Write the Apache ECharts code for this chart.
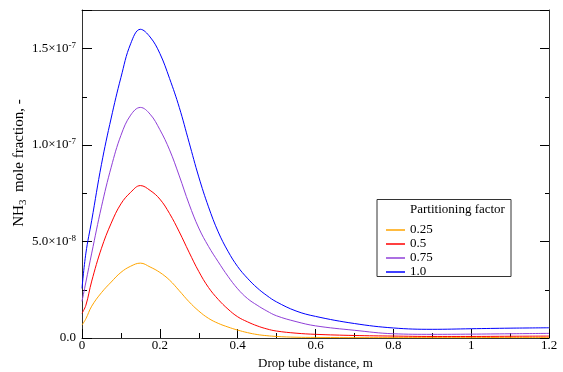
<!DOCTYPE html>
<html>
<head>
<meta charset="utf-8">
<script src="https://cdn.jsdelivr.net/npm/echarts@6/dist/echarts.min.js"></script>
<style>
  html, body { margin: 0; padding: 0; background: #fff; }
  #chart { width: 563px; height: 372px; }
</style>
</head>
<body>
<div id="chart"></div>
<script>
// distance along the drop tube, m
const distance = [0, 0.01, 0.025, 0.05, 0.075, 0.1, 0.125, 0.15, 0.175, 0.2, 0.225, 0.25, 0.275, 0.3,
  0.325, 0.35, 0.375, 0.4, 0.425, 0.45, 0.475, 0.5, 0.55, 0.6, 0.7, 0.8, 0.9, 1.0, 1.1, 1.2];

// NH3 mole fraction, in units of 1e-8
const pf025 = [0.67, 1.0, 1.65, 2.35, 2.9, 3.4, 3.72, 3.88, 3.68, 3.4, 3.0, 2.45, 1.88, 1.4,
  1.02, 0.76, 0.57, 0.41, 0.28, 0.18, 0.12, 0.08, 0.04, 0.03, 0.02, 0.02, 0.02, 0.02, 0.03, 0.03];
const pf05 = [1.28, 1.7, 2.95, 4.65, 5.95, 6.95, 7.55, 7.9, 7.65, 7.2, 6.45, 5.5, 4.45, 3.45,
  2.62, 2.0, 1.5, 1.1, 0.84, 0.63, 0.47, 0.36, 0.25, 0.19, 0.13, 0.1, 0.08, 0.08, 0.09, 0.1];
const pf075 = [1.9, 2.9, 4.4, 6.8, 8.85, 10.5, 11.55, 11.95, 11.6, 10.8, 9.75, 8.4, 6.95, 5.7,
  4.75, 3.95, 3.2, 2.55, 2.05, 1.7, 1.4, 1.15, 0.85, 0.63, 0.4, 0.22, 0.19, 0.2, 0.22, 0.24];
const pf10 = [2.57, 4.4, 6.1, 9.0, 11.4, 13.5, 15.25, 16.0, 15.6, 14.75, 13.45, 11.95, 10.15, 8.35,
  6.8, 5.5, 4.5, 3.7, 3.1, 2.6, 2.2, 1.87, 1.4, 1.12, 0.75, 0.52, 0.45, 0.48, 0.51, 0.53];

const seriesNames = ['0.25', '0.5', '0.75', '1.0'];
const seriesColors = ['#ffa500', '#ff0000', '#9040d8', '#0000ff'];
const seriesData = [pf025, pf05, pf075, pf10];

const yTicks = { 0: ['0.0', ''], 5: ['5.0×10', '-8'], 10: ['1.0×10', '-7'], 15: ['1.5×10', '-7'] };

const FONT = '"Liberation Serif", "DejaVu Serif", serif';
const axisColor = '#333';

const chart = echarts.init(document.getElementById('chart'));

const option = {
  backgroundColor: '#fff',
  animation: false,
  grid: { left: 82, right: 14, top: 10, bottom: 34, outerBoundsMode: 'none' },
  xAxis: [
    {
      type: 'value',
      min: 0,
      max: 1.2,
      interval: 0.2,
      name: 'Drop tube distance, m',
      nameLocation: 'middle',
      nameGap: 17,
      nameTextStyle: { fontFamily: FONT, fontSize: 13, color: '#000' },
      axisLine: { onZero: false, lineStyle: { color: axisColor, width: 1 } },
      axisTick: { inside: true, length: 9, lineStyle: { color: '#000' } },
      minorTick: { show: true, splitNumber: 2, length: 5, lineStyle: { color: '#000' } },
      splitLine: { show: false },
      axisLabel: { fontFamily: FONT, fontSize: 13, color: '#000', margin: 1 },
    },
    {
      type: 'value',
      position: 'top',
      min: 0,
      max: 1.2,
      axisLine: { show: true, onZero: false, lineStyle: { color: axisColor, width: 1 } },
      axisTick: { show: false },
      axisLabel: { show: false },
      splitLine: { show: false },
    },
  ],
  yAxis: [
    {
      type: 'value',
      min: 0,
      max: 17,
      interval: 5,
      name: '{a|NH}{s|3}{a|  mole fraction, -}',
      nameLocation: 'middle',
      nameGap: 53,
      nameMoveOverlap: false,
      nameTextStyle: {
        padding: [0, 0, 0, 22],
        rich: {
          a: { fontFamily: FONT, fontSize: 15, color: '#000' },
          s: { fontFamily: FONT, fontSize: 11, color: '#000', verticalAlign: 'bottom', padding: [8, 0, 0, 0] },
        },
      },
      axisLine: { show: true, onZero: false, lineStyle: { color: axisColor, width: 1 } },
      axisTick: { inside: true, length: 10, lineStyle: { color: '#000' } },
      minorTick: { show: true, splitNumber: 2, length: 5, lineStyle: { color: '#000' } },
      splitLine: { show: false },
      axisLabel: {
        showMaxLabel: false,
        margin: 6,
        formatter: function (v) {
          const t = yTicks[Math.round(v)];
          if (!t) return '';
          return t[1] ? '{b|' + t[0] + '}{e|' + t[1] + '}' : '{b|' + t[0] + '}';
        },
        rich: {
          b: { fontFamily: FONT, fontSize: 13, color: '#000' },
          e: { fontFamily: FONT, fontSize: 9, color: '#000', verticalAlign: 'top', padding: [0, 0, 6, 0] },
        },
      },
    },
    {
      type: 'value',
      position: 'right',
      min: 0,
      max: 17,
      interval: 5,
      axisLine: { show: true, onZero: false, lineStyle: { color: axisColor, width: 1 } },
      axisTick: { inside: true, length: 9, lineStyle: { color: '#000' } },
      minorTick: { show: true, splitNumber: 2, length: 4, lineStyle: { color: '#000' } },
      splitLine: { show: false },
      axisLabel: { show: false },
    },
  ],
  legend: {
    left: 381,
    top: 218,
    orient: 'vertical',
    icon: 'rect',
    itemWidth: 19,
    itemHeight: 1.5,
    itemGap: 0,
    itemTextGap: 10,
    textStyle: { fontFamily: FONT, fontSize: 13, lineHeight: 14, color: '#000' },
    data: seriesNames,
  },
  graphic: [
    {
      type: 'rect',
      z: 3,
      shape: { x: 377, y: 199.5, width: 134, height: 77 },
      style: { fill: '#fff', stroke: '#333', lineWidth: 1 },
    },
    {
      type: 'text',
      z: 4,
      x: 410,
      y: 203,
      style: { text: 'Partitioning factor', font: '13px ' + FONT, fill: '#000' },
    },
  ],
  series: seriesNames.map(function (name, i) {
    return {
      name: name,
      type: 'line',
      smooth: 0.4,
      showSymbol: false,
      symbol: 'none',
      color: seriesColors[i],
      lineStyle: { width: 1, color: seriesColors[i] },
      data: distance.map(function (x, j) { return [x, seriesData[i][j]]; }),
    };
  }),
};

chart.setOption(option);
</script>
</body>
</html>
